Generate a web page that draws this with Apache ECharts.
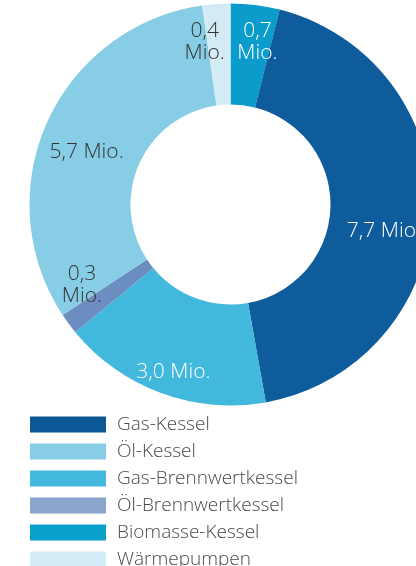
<!DOCTYPE html>
<html>
<head>
<meta charset="utf-8">
<script src="https://cdn.jsdelivr.net/npm/echarts@6/dist/echarts.min.js"></script>
<style>
html,body{margin:0;padding:0;background:#fff;}
#c{width:416px;height:566px;}
</style>
</head>
<body>
<div id="c"></div>
<script>
// Data (clockwise from 12 o'clock)
const categories = ['Biomasse-Kessel','Gas-Kessel','Gas-Brennwertkessel','Öl-Brennwertkessel','Öl-Kessel','Wärmepumpen'];
const values = [0.7, 7.7, 3.0, 0.3, 5.7, 0.4];
const labelTexts = ['0,7\nMio.','7,7 Mio.','3,0 Mio.','0,3\nMio.','5,7 Mio.','0,4\nMio.'];
const legendOrder = ['Gas-Kessel','Öl-Kessel','Gas-Brennwertkessel','Öl-Brennwertkessel','Biomasse-Kessel','Wärmepumpen'];

const sliceColors = {
  'Biomasse-Kessel':'#0a9ccb',
  'Gas-Kessel':'#0f5c9c',
  'Gas-Brennwertkessel':'#41b8dc',
  'Öl-Brennwertkessel':'#6c8dc0',
  'Öl-Kessel':'#88cde6',
  'Wärmepumpen':'#d3ebf5'
};
const legendColors = {
  'Gas-Kessel':'#0d5896',
  'Öl-Kessel':'#88cde6',
  'Gas-Brennwertkessel':'#41b8dc',
  'Öl-Brennwertkessel':'#8aa4cb',
  'Biomasse-Kessel':'#0aa0cc',
  'Wärmepumpen':'#d3ebf5'
};
const labelColors = {
  'Biomasse-Kessel':'#ffffff',
  'Gas-Kessel':'#ffffff',
  'Gas-Brennwertkessel':'#ffffff',
  'Öl-Brennwertkessel':'#333333',
  'Öl-Kessel':'#333333',
  'Wärmepumpen':'#333333'
};
const labelShift = {
  'Biomasse-Kessel':[8,-10],
  'Gas-Kessel':[0,21],
  'Gas-Brennwertkessel':[-4,23],
  'Öl-Brennwertkessel':[-25,-11],
  'Öl-Kessel':[-4,11],
  'Wärmepumpen':[-15,-9]
};

const chart = echarts.init(document.getElementById('c'), null, {renderer:'canvas'});
const font = '"Open Sans", Lato, sans-serif';
chart.setOption({
  animation:false,
  legend:{
    orient:'vertical',
    left:30, top:415, height:170,
    padding:0,
    itemWidth:76, itemHeight:16, itemGap:8,
    icon:'rect',
    selectedMode:false,
    textStyle:{color:'#4a4a4a', fontSize:19, fontWeight:300, lineHeight:16, fontFamily:font, padding:[0,0,0,6]},
    data: legendOrder.map(n=>({name:n, itemStyle:{color:legendColors[n]}}))
  },
  series:[{
    type:'pie',
    center:[230.5,204.5],
    radius:[100,201],
    startAngle:90,
    clockwise:true,
    avoidLabelOverlap:false,
    label:{
      show:true, position:'inside',
      fontFamily:font, fontSize:21, fontWeight:300, lineHeight:22
    },
    labelLine:{show:false},
    labelLayout:function(p){
      const s = labelShift[categories[p.dataIndex]];
      return {dx:s[0], dy:s[1]};
    },
    emphasis:{disabled:true},
    itemStyle:{borderWidth:0},
    data: categories.map((n,i)=>({
      name:n, value:values[i],
      itemStyle:{color:sliceColors[n]},
      label:{formatter:labelTexts[i], color:labelColors[n]}
    }))
  }]
});
</script>
</body>
</html>
